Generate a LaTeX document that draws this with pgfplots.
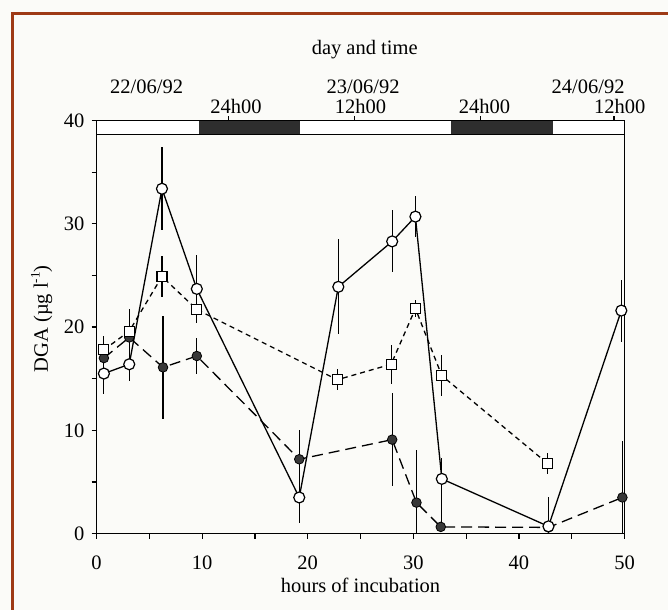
\documentclass[border=0pt]{standalone}
\usepackage{fontspec}
\setmainfont{Liberation Serif}
\usepackage{pgfplots}
\pgfplotsset{compat=1.18}
\definecolor{pageframe}{RGB}{158,58,22}
\definecolor{paper}{RGB}{251,251,248}
\definecolor{night}{gray}{0.18}
\definecolor{dot}{gray}{0.22}
\DeclareRobustCommand{\dgaunit}{(µg l\raisebox{0.9ex}{\fontsize{13bp}{14bp}\selectfont -1})}

\begin{document}
\fontsize{20.5bp}{24bp}\selectfont
\begin{tikzpicture}[font=\fontsize{20.5bp}{24bp}\selectfont]
\useasboundingbox (0,0) rectangle (668bp,610bp);
\fill[paper] (0,0) rectangle (668bp,610bp);
\draw[pageframe, line width=3bp] (12bp,0) -- (12bp,596bp) -- (668bp,596bp);
\begin{axis}[
  at={(96.5bp,76.4bp)}, anchor=south west,
  scale only axis, width=528bp, height=413bp,
  xmin=0, xmax=50, ymin=0, ymax=40,
  clip=false,
  axis line style={line width=1.3bp},
  xtick={0,10,...,50}, minor xtick={5,15,...,45},
  ytick={0,10,...,40}, minor ytick={5,15,...,35},
  xtick pos=bottom, ytick pos=left, tick align=outside,
  major tick length=5bp, minor tick length=5bp,
  every tick/.style={black, line width=1.2bp},
  /pgf/number format/assume math mode=true,
  xticklabel style={inner sep=0pt, anchor=north, yshift=-17bp},
  yticklabel style={inner sep=0pt, anchor=east, xshift=-7bp},
  xlabel={hours of incubation},
  xlabel style={at={(axis description cs:0.5,-0.1438)}, anchor=base},
  ylabel={DGA \dgaunit},
  ylabel style={at={(axis description cs:-0.0919,0.52)}, anchor=base},
  error bars/error bar style={solid, line width=1.2bp, black},
  error bars/error mark=none,
]
% light/dark bar along the top
\draw[line width=1.3bp, fill=white] (axis cs:0,38.65) rectangle (axis cs:50,40);
\fill[night] (axis cs:9.7,38.65) rectangle (axis cs:19.25,40);
\fill[night] (axis cs:33.55,38.65) rectangle (axis cs:43.2,40);
\draw[line width=1.3bp] (axis cs:0,38.65) rectangle (axis cs:50,40);
% clock-time ticks above the bar
\draw[line width=1.2bp] (axis cs:12.5,40) -- ++(0,5bp);
\draw[line width=1.2bp] (axis cs:24.4,40) -- ++(0,5bp);
\draw[line width=1.2bp] (axis cs:36.4,40) -- ++(0,5bp);
\draw[line width=1.2bp] (axis cs:49.0,40) -- ++(0,5bp);
\node[anchor=base] at (rel axis cs:0.264,1.0174) {24h00};
\node[anchor=base] at (rel axis cs:0.500,1.0174) {12h00};
\node[anchor=base] at (rel axis cs:0.735,1.0174) {24h00};
\node[anchor=base] at (rel axis cs:0.991,1.0174) {12h00};
\node[anchor=base] at (rel axis cs:0.095,1.0659) {22/06/92};
\node[anchor=base] at (rel axis cs:0.505,1.0659) {23/06/92};
\node[anchor=base] at (rel axis cs:0.931,1.0659) {24/06/92};
\node[anchor=base] at (rel axis cs:0.508,1.161) {day and time};

% filled circles, long dashes
\addplot[black, line width=1.3bp, dash pattern=on 11bp off 6bp,
  mark=*, mark size=4.8bp, mark options={solid, fill=dot, draw=black, line width=0.8bp},
  error bars/.cd, y dir=both, y explicit]
coordinates {
  (0.7,17.0) +- (0,0.6)
  (3.1,19.0) +- (0,1.0)
  (6.3,16.1) +- (0,5.0)
  (9.5,17.2) +- (0,1.7)
  (19.2,7.2) +- (0,2.8)
  (28.0,9.1) +- (0,4.5)
  (30.3,3.0) += (0,5.1) -= (0,3.0)
  (32.6,0.65) +- (0,0.5)
  (42.8,0.6) +- (0,0)
  (49.8,3.5) += (0,5.5) -= (0,3.5)
};

% open squares, short dashes
\addplot[black, line width=1.3bp, dash pattern=on 5bp off 4bp,
  mark=square*, mark size=5bp, mark options={solid, fill=white, draw=black, line width=1.2bp},
  error bars/.cd, y dir=both, y explicit]
coordinates {
  (0.7,17.8) +- (0,1.3)
  (3.1,19.6) +- (0,2.2)
  (6.2,24.9) +- (0,2.0)
  (9.5,21.7) +- (0,1.1)
  (22.8,14.9) +- (0,1.0)
  (27.9,16.4) +- (0,1.9)
  (30.2,21.8) +- (0,0.8)
  (32.7,15.3) +- (0,2.0)
  (42.7,6.8) +- (0,1.0)
};

% open circles, solid line
\addplot[black, line width=1.3bp, solid,
  mark=*, mark size=5.5bp, mark options={solid, fill=white, draw=black, line width=1.2bp},
  error bars/.cd, y dir=both, y explicit]
coordinates {
  (0.7,15.5) +- (0,2.0)
  (3.1,16.4) +- (0,1.6)
  (6.2,33.4) +- (0,4.0)
  (9.5,23.7) +- (0,3.3)
  (19.2,3.5) +- (0,2.5)
  (22.9,23.9) +- (0,4.6)
  (28.0,28.3) +- (0,3.0)
  (30.2,30.7) +- (0,2.0)
  (32.7,5.3) += (0,2.0) -= (0,4.3)
  (42.8,0.7) += (0,2.8) -= (0,0.7)
  (49.7,21.6) +- (0,3.0)
};
\end{axis}
\end{tikzpicture}
\end{document}
